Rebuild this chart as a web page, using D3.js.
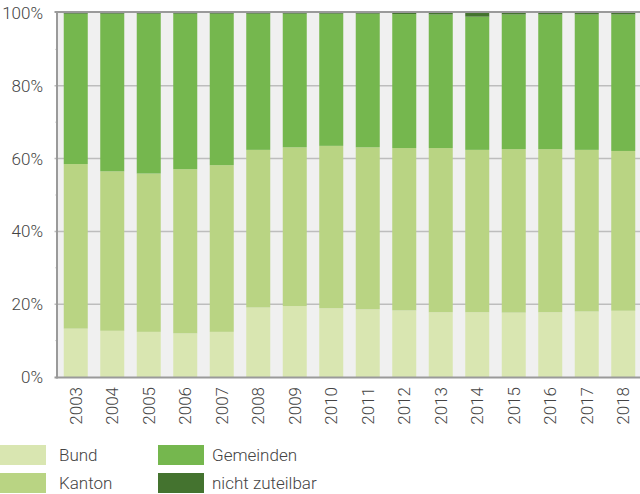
<!DOCTYPE html>
<html>
<head>
    <meta charset="utf-8">
    <title>Anteile Bund Kanton Gemeinden</title>
    <script src="https://cdn.jsdelivr.net/npm/d3@7/dist/d3.min.js"></script>
    <style>
        body { margin: 0; background: #fff; }
        text { font-family: Roboto, "Noto Sans", sans-serif; font-weight: 300; fill: #444; }
    </style>
</head>
<body>
<div id="app"></div>
<script>
    // Daten (Prozent)
    var years = ['2003', '2004', '2005', '2006', '2007', '2008', '2009', '2010',
        '2011', '2012', '2013', '2014', '2015', '2016', '2017', '2018'];
    var bund = [13.3, 12.7, 12.4, 12.0, 12.4, 19.1, 19.5, 18.9, 18.6, 18.3, 17.8, 17.8, 17.7, 17.8, 18.0, 18.2];
    var kanton = [45.2, 43.8, 43.5, 45.1, 45.8, 43.3, 43.6, 44.6, 44.5, 44.6, 45.1, 44.6, 44.9, 44.8, 44.4, 43.9];
    var nichtZuteilbar = [0.2, 0.2, 0.2, 0.2, 0.2, 0.2, 0.2, 0.2, 0.2, 0.3, 0.4, 1.0, 0.4, 0.4, 0.4, 0.4];
    var gemeinden = [41.3, 43.3, 43.9, 42.7, 41.6, 37.4, 36.7, 36.3, 36.7, 36.8, 36.7, 36.6, 37.0, 37.0, 37.2, 37.5];
    var yTicks = [0, 20, 40, 60, 80, 100];

    !function () {
        var keys = ['Bund', 'Kanton', 'Gemeinden', 'nicht zuteilbar'];
        var colors = ['#d9e6b1', '#b9d483', '#75b74e', '#44732f'];

        var rows = years.map(function (y, i) {
            return { year: y, 'Bund': bund[i], 'Kanton': kanton[i], 'Gemeinden': gemeinden[i], 'nicht zuteilbar': nichtZuteilbar[i] };
        });

        var w = 640, h = 494;
        var mLeft = 57.5, mRight = 641.5, mTop = 13, mBottom = 377;

        var svg = d3.select('#app').append('svg').attr('width', w).attr('height', h);

        var x = d3.scaleBand().domain(years).range([mLeft, mRight]).paddingInner(0.342).paddingOuter(0.171);
        var y = d3.scaleLinear().domain([0, 100]).range([mBottom, mTop]);
        var color = d3.scaleOrdinal().domain(keys).range(colors);

        // Hintergrund
        svg.append('rect')
            .attr('x', mLeft).attr('y', mTop)
            .attr('width', w - mLeft).attr('height', mBottom - mTop)
            .attr('fill', '#f0f0f0');

        // Gitterlinien
        svg.append('g').selectAll('line')
            .data(yTicks.filter(function (d) { return d > 0 && d < 100; }))
            .enter().append('line')
            .attr('x1', mLeft - 3).attr('x2', w)
            .attr('y1', function (d) { return y(d); })
            .attr('y2', function (d) { return y(d); })
            .attr('stroke', '#bdbdbd')
            .attr('stroke-width', 1.5);

        // kleine Ticks
        svg.append('g').selectAll('line')
            .data([10, 30, 50, 70, 90])
            .enter().append('line')
            .attr('x1', mLeft - 2).attr('x2', mLeft)
            .attr('y1', function (d) { return y(d); })
            .attr('y2', function (d) { return y(d); })
            .attr('stroke', '#aaa');

        // gestapelte Balken
        var stack = d3.stack().keys(keys)(rows);

        svg.append('g').selectAll('g')
            .data(stack)
            .enter().append('g')
            .attr('fill', function (d) { return color(d.key); })
            .selectAll('rect')
            .data(function (d) { return d; })
            .enter().append('rect')
            .attr('x', function (d) { return x(d.data.year); })
            .attr('width', x.bandwidth())
            .attr('y', function (d) { return y(d[1]); })
            .attr('height', function (d) { return y(d[0]) - y(d[1]); });

        // Achsen
        svg.append('line')
            .attr('x1', mLeft - 0.5).attr('x2', mLeft - 0.5)
            .attr('y1', mTop - 2).attr('y2', mBottom + 1.5)
            .attr('stroke', '#9a9a9a').attr('stroke-width', 2);
        svg.append('line')
            .attr('x1', mLeft - 3).attr('x2', w)
            .attr('y1', mBottom + 0.5).attr('y2', mBottom + 0.5)
            .attr('stroke', '#9a9a9a').attr('stroke-width', 2);
        svg.append('line')
            .attr('x1', mLeft - 3).attr('x2', w)
            .attr('y1', mTop - 1).attr('y2', mTop - 1)
            .attr('stroke', '#9a9a9a').attr('stroke-width', 2);

        // Y-Beschriftung
        svg.append('g').selectAll('text')
            .data(yTicks)
            .enter().append('text')
            .attr('x', 43)
            .attr('y', function (d) { return y(d); })
            .attr('dy', '0.35em')
            .attr('text-anchor', 'end')
            .style('font-size', '17px')
            .text(function (d) { return d + '%'; });

        // X-Beschriftung
        svg.append('g').selectAll('text')
            .data(years)
            .enter().append('text')
            .attr('transform', function (d) {
                return 'translate(' + (x(d) + x.bandwidth() / 2) + ',' + (mBottom + 10) + ') rotate(-90)';
            })
            .attr('dy', '0.35em')
            .attr('text-anchor', 'end')
            .style('font-size', '17px')
            .text(function (d) { return d; });

        // Legende
        var legend = svg.append('g').selectAll('g')
            .data(keys)
            .enter().append('g')
            .attr('transform', function (d, i) {
                return 'translate(' + (i < 2 ? 0 : 158) + ',' + (i % 2 === 0 ? 445 : 473) + ')';
            });
        legend.append('rect')
            .attr('width', 46).attr('height', 20)
            .attr('fill', function (d) { return color(d); });
        legend.append('text')
            .attr('x', function (d, i) { return i < 2 ? 59 : 54; })
            .attr('y', 10)
            .attr('dy', '0.35em')
            .style('font-size', '17px')
            .text(function (d) { return d; });
    }();
</script>
</body>
</html>
